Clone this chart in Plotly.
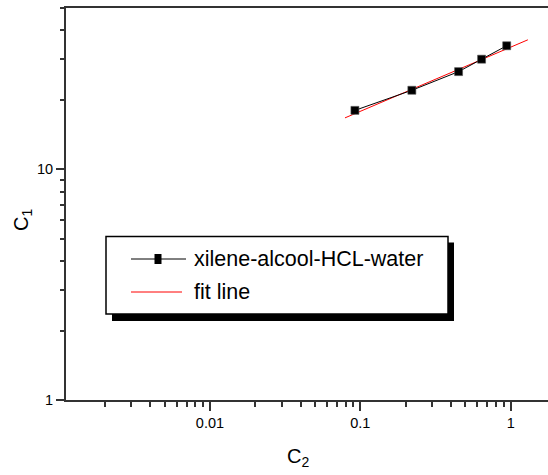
import plotly.graph_objects as go

# ---- data ----
c2 = [0.092, 0.22, 0.45, 0.64, 0.94]
c1 = [18.0, 22.0, 26.5, 30.0, 34.3]
fit_c2 = [0.079, 1.30]
fit_c1 = [16.7, 36.4]
series_name = "xilene-alcool-HCL-water"
fit_name = "fit line"
x_tickvals = [0.01, 0.1, 1]
x_ticktext = ["0.01", "0.1", "1"]
y_tickvals = [1, 10]
y_ticktext = ["1", "10"]

W, H = 548, 475
L, R, T, B = 66, 0, 8, 75
FONT = "Liberation Sans, Arial, sans-serif"

x_minor = [m * 10 ** e for e in range(-3, 1) for m in range(2, 10)]
y_minor = [m * 10 ** e for e in range(0, 2) for m in range(2, 10)]


def px(x):
    return (x - L) / (W - L - R)


def py(y):
    return (H - B - y) / (H - T - B)


fig = go.Figure()
fig.add_trace(go.Scatter(
    x=fit_c2, y=fit_c1, mode="lines", name=fit_name,
    line=dict(color="red", width=1), showlegend=False))
fig.add_trace(go.Scatter(
    x=c2, y=c1, mode="lines+markers", name=series_name,
    line=dict(color="black", width=1),
    marker=dict(symbol="square", size=8, color="black",
                line=dict(color="#555", width=0.6)),
    showlegend=False))

# ---- custom legend (box with drop shadow) ----
bx0, by0, bx1, by1 = 106, 236.5, 448, 314
sh = 6
shapes = [
    dict(type="rect", xref="paper", yref="paper",
         x0=px(bx0 + sh), x1=px(bx1 + sh), y0=py(by1 + sh + 1), y1=py(by0 + sh),
         fillcolor="black", line=dict(width=0)),
    dict(type="rect", xref="paper", yref="paper",
         x0=px(bx0), x1=px(bx1), y0=py(by1), y1=py(by0),
         fillcolor="white", line=dict(color="black", width=1.5)),
    dict(type="line", xref="paper", yref="paper",
         x0=px(131), x1=px(186), y0=py(259), y1=py(259),
         line=dict(color="black", width=1)),
    dict(type="rect", xref="paper", yref="paper",
         x0=px(154.5), x1=px(161.5), y0=py(264), y1=py(254),
         fillcolor="black", line=dict(width=0)),
    dict(type="line", xref="paper", yref="paper",
         x0=px(131), x1=px(182), y0=py(292), y1=py(292),
         line=dict(color="red", width=1)),
]
annotations = [
    dict(text=series_name, xref="paper", yref="paper", x=px(192), y=py(259),
         xanchor="left", yanchor="middle", showarrow=False,
         font=dict(family=FONT, size=21.5, color="black")),
    dict(text=fit_name, xref="paper", yref="paper", x=px(192), y=py(292),
         xanchor="left", yanchor="middle", showarrow=False,
         font=dict(family=FONT, size=21.5, color="black")),
    dict(text="C<sub>2</sub>", xref="paper", yref="paper", x=px(298), y=py(457),
         xanchor="center", yanchor="middle", showarrow=False,
         font=dict(family=FONT, size=20, color="black")),
    dict(text="C<sub>1</sub>", xref="paper", yref="paper", x=px(22), y=py(220),
         xanchor="center", yanchor="middle", showarrow=False, textangle=-90,
         font=dict(family=FONT, size=20, color="black")),
]

axis_common = dict(
    type="log", showgrid=False, zeroline=False,
    showline=True, linecolor="#333", linewidth=2,
    ticks="outside", tickcolor="#333", tickwidth=1.5,
    tickmode="array",
    tickfont=dict(family=FONT, size=14.5, color="black"),
)

fig.update_layout(
    width=W, height=H,
    margin=dict(l=L, r=R, t=T, b=B, pad=0),
    paper_bgcolor="white", plot_bgcolor="white",
    showlegend=False,
    shapes=shapes, annotations=annotations,
    xaxis=dict(axis_common, range=[-2.9575, 0.2478], mirror=True,
               tickvals=x_tickvals, ticktext=x_ticktext, ticklen=9,
               minor=dict(tickmode="array", tickvals=x_minor, ticks="outside",
                          ticklen=5, tickwidth=1.5, tickcolor="#333")),
    yaxis=dict(axis_common, range=[0, 1.69897],
               tickvals=y_tickvals, ticktext=y_ticktext, ticklen=8,
               minor=dict(tickmode="array", tickvals=y_minor, ticks="outside",
                          ticklen=4, tickwidth=1.5, tickcolor="#333")),
)

fig.write_html(
    "out.html",
    config={"displayModeBar": False},
    post_script="document.body.style.margin='0px';document.body.style.overflow='hidden';",
)
